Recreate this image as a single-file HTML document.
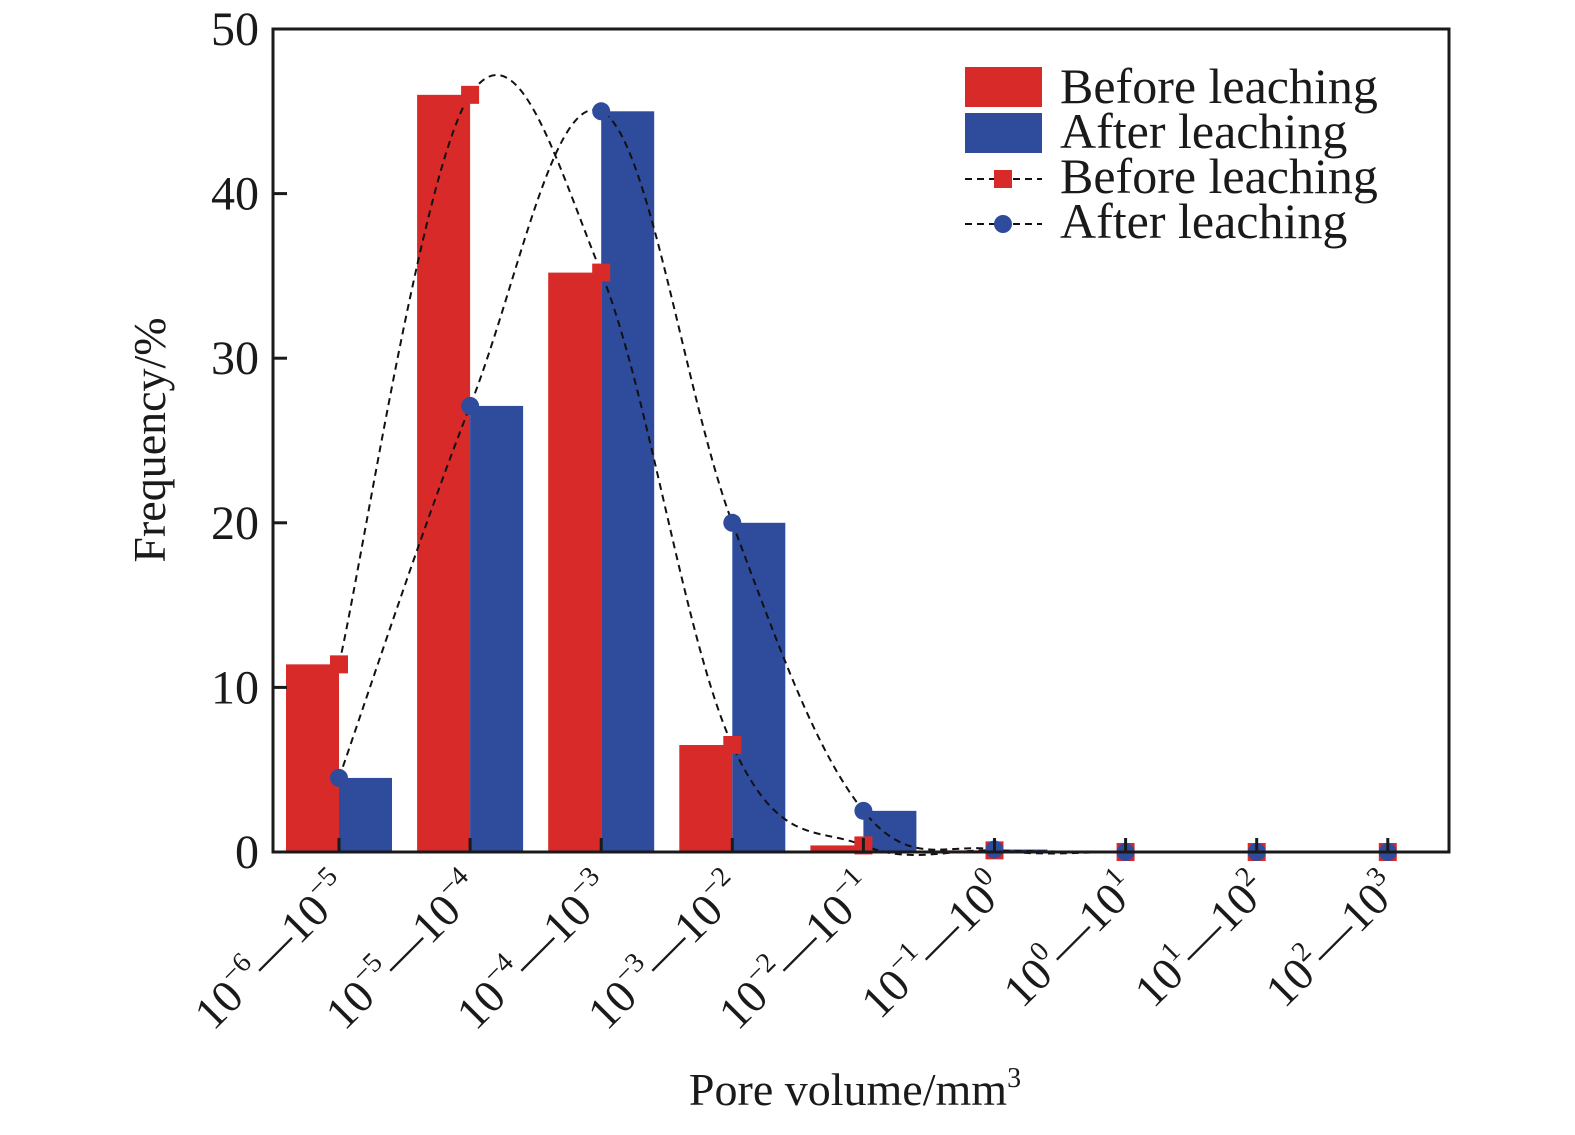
<!DOCTYPE html>
<html><head><meta charset="utf-8"><style>
html,body{margin:0;padding:0;background:#fff;}
svg text{font-family:"Liberation Serif",serif;fill:#1a1a1a;}
</style></head><body>
<svg width="1575" height="1130" viewBox="0 0 1575 1130" xmlns="http://www.w3.org/2000/svg">
<g id="bars"></g>
<g id="lines"></g>
<g id="axes"></g>
<g id="legend">
  <rect x="965" y="67" width="77" height="40" fill="#d92a2a"/>
  <text x="1060" y="103" font-size="50">Before leaching</text>
  <rect x="965" y="113" width="77" height="40" fill="#2f4b9c"/>
  <text x="1060" y="148" font-size="50">After leaching</text>
  <line x1="965" y1="179" x2="1042" y2="179" stroke="#111" stroke-width="2" stroke-dasharray="7,5"/>
  <rect x="994" y="170" width="18" height="18" fill="#d92a2a"/>
  <text x="1060" y="193" font-size="50">Before leaching</text>
  <line x1="965" y1="224" x2="1042" y2="224" stroke="#111" stroke-width="2" stroke-dasharray="7,5"/>
  <circle cx="1003" cy="224" r="9" fill="#2f4b9c"/>
  <text x="1060" y="238" font-size="50">After leaching</text>
</g>
<text transform="translate(165,440) rotate(-90)" text-anchor="middle" font-size="46">Frequency/%</text>
<text x="855" y="1105" text-anchor="middle" font-size="46">Pore volume/mm<tspan font-size="28" dy="-18">3</tspan></text>
</svg>
<script>
const categories=[["−6","−5"],["−5","−4"],["−4","−3"],["−3","−2"],["−2","−1"],["−1","0"],["0","1"],["1","2"],["2","3"]];
const beforeVals=[11.4,46,35.2,6.5,0.4,0.1,0,0,0];
const afterVals=[4.5,27.1,45,20,2.5,0.15,0,0,0];
const yTicks=[0,10,20,30,40,50];
const NS="http://www.w3.org/2000/svg";
const L=273,R=1449,T=29,B=852;
const yMax=50;
function y(v){return B-(v/yMax)*(B-T);}
function x(i){return 339+i*131.1;}
function mk(tag,attrs,parent){const e=document.createElementNS(NS,tag);for(const k in attrs)e.setAttribute(k,attrs[k]);parent.appendChild(e);return e;}
const bars=document.getElementById('bars'),lines=document.getElementById('lines'),axes=document.getElementById('axes');
const bw=53;
categories.forEach((c,i)=>{
  const rb=mk('rect',{x:x(i)-bw,y:y(beforeVals[i]),width:bw,height:B-y(beforeVals[i]),fill:'#d92a2a'},bars);
  
  
  const ab=mk('rect',{x:x(i),y:y(afterVals[i]),width:bw,height:B-y(afterVals[i]),fill:'#2f4b9c'},bars);
  
  
});
function spline(vals){
  const p=vals.map((v,i)=>[x(i),y(v)]);let d='M'+p[0][0]+','+p[0][1];
  const t=0.18;
  for(let i=0;i<p.length-1;i++){
    const p0=p[Math.max(0,i-1)],p1=p[i],p2=p[i+1],p3=p[Math.min(p.length-1,i+2)];
    const c1=[p1[0]+(p2[0]-p0[0])*t,p1[1]+(p2[1]-p0[1])*t];
    const c2=[p2[0]-(p3[0]-p1[0])*t,p2[1]-(p3[1]-p1[1])*t];
    d+=` C${c1[0]},${c1[1]} ${c2[0]},${c2[1]} ${p2[0]},${p2[1]}`;
  }
  return d;
}
const lb=mk('path',{d:spline(beforeVals),fill:'none',stroke:'#111','stroke-width':2,'stroke-dasharray':'7,5'},lines);


const la=mk('path',{d:spline(afterVals),fill:'none',stroke:'#111','stroke-width':2,'stroke-dasharray':'7,5'},lines);


categories.forEach((c,i)=>{
  const m=mk('rect',{x:x(i)-9,y:y(beforeVals[i])-9,width:18,height:18,fill:'#d92a2a'},lines);
  
  
  const a=mk('circle',{cx:x(i),cy:y(afterVals[i]),r:9,fill:'#2f4b9c'},lines);
  
  
});
const frame=mk('rect',{x:L,y:T,width:R-L,height:B-T,fill:'none',stroke:'#1a1a1a','stroke-width':3},axes);


yTicks.forEach(v=>{
  mk('line',{x1:L,x2:L+14,y1:y(v),y2:y(v),stroke:'#1a1a1a','stroke-width':3},axes);
  const t=mk('text',{x:L-14,y:y(v)+16,'text-anchor':'end','font-size':48},axes);
  t.textContent=v;
  
  
});
categories.forEach((c,i)=>{
  mk('line',{x1:x(i),x2:x(i),y1:B,y2:B-14,stroke:'#1a1a1a','stroke-width':3},axes);
  const t=mk('text',{transform:`translate(${x(i)+14},${B+40}) rotate(-45)`,'text-anchor':'end','font-size':46},axes);
  
  
  t.innerHTML=`10<tspan font-size="28" dy="-20">${c[0]}</tspan><tspan dy="20">—10</tspan><tspan font-size="28" dy="-20">${c[1]}</tspan>`;
});
</script>
</body></html>
